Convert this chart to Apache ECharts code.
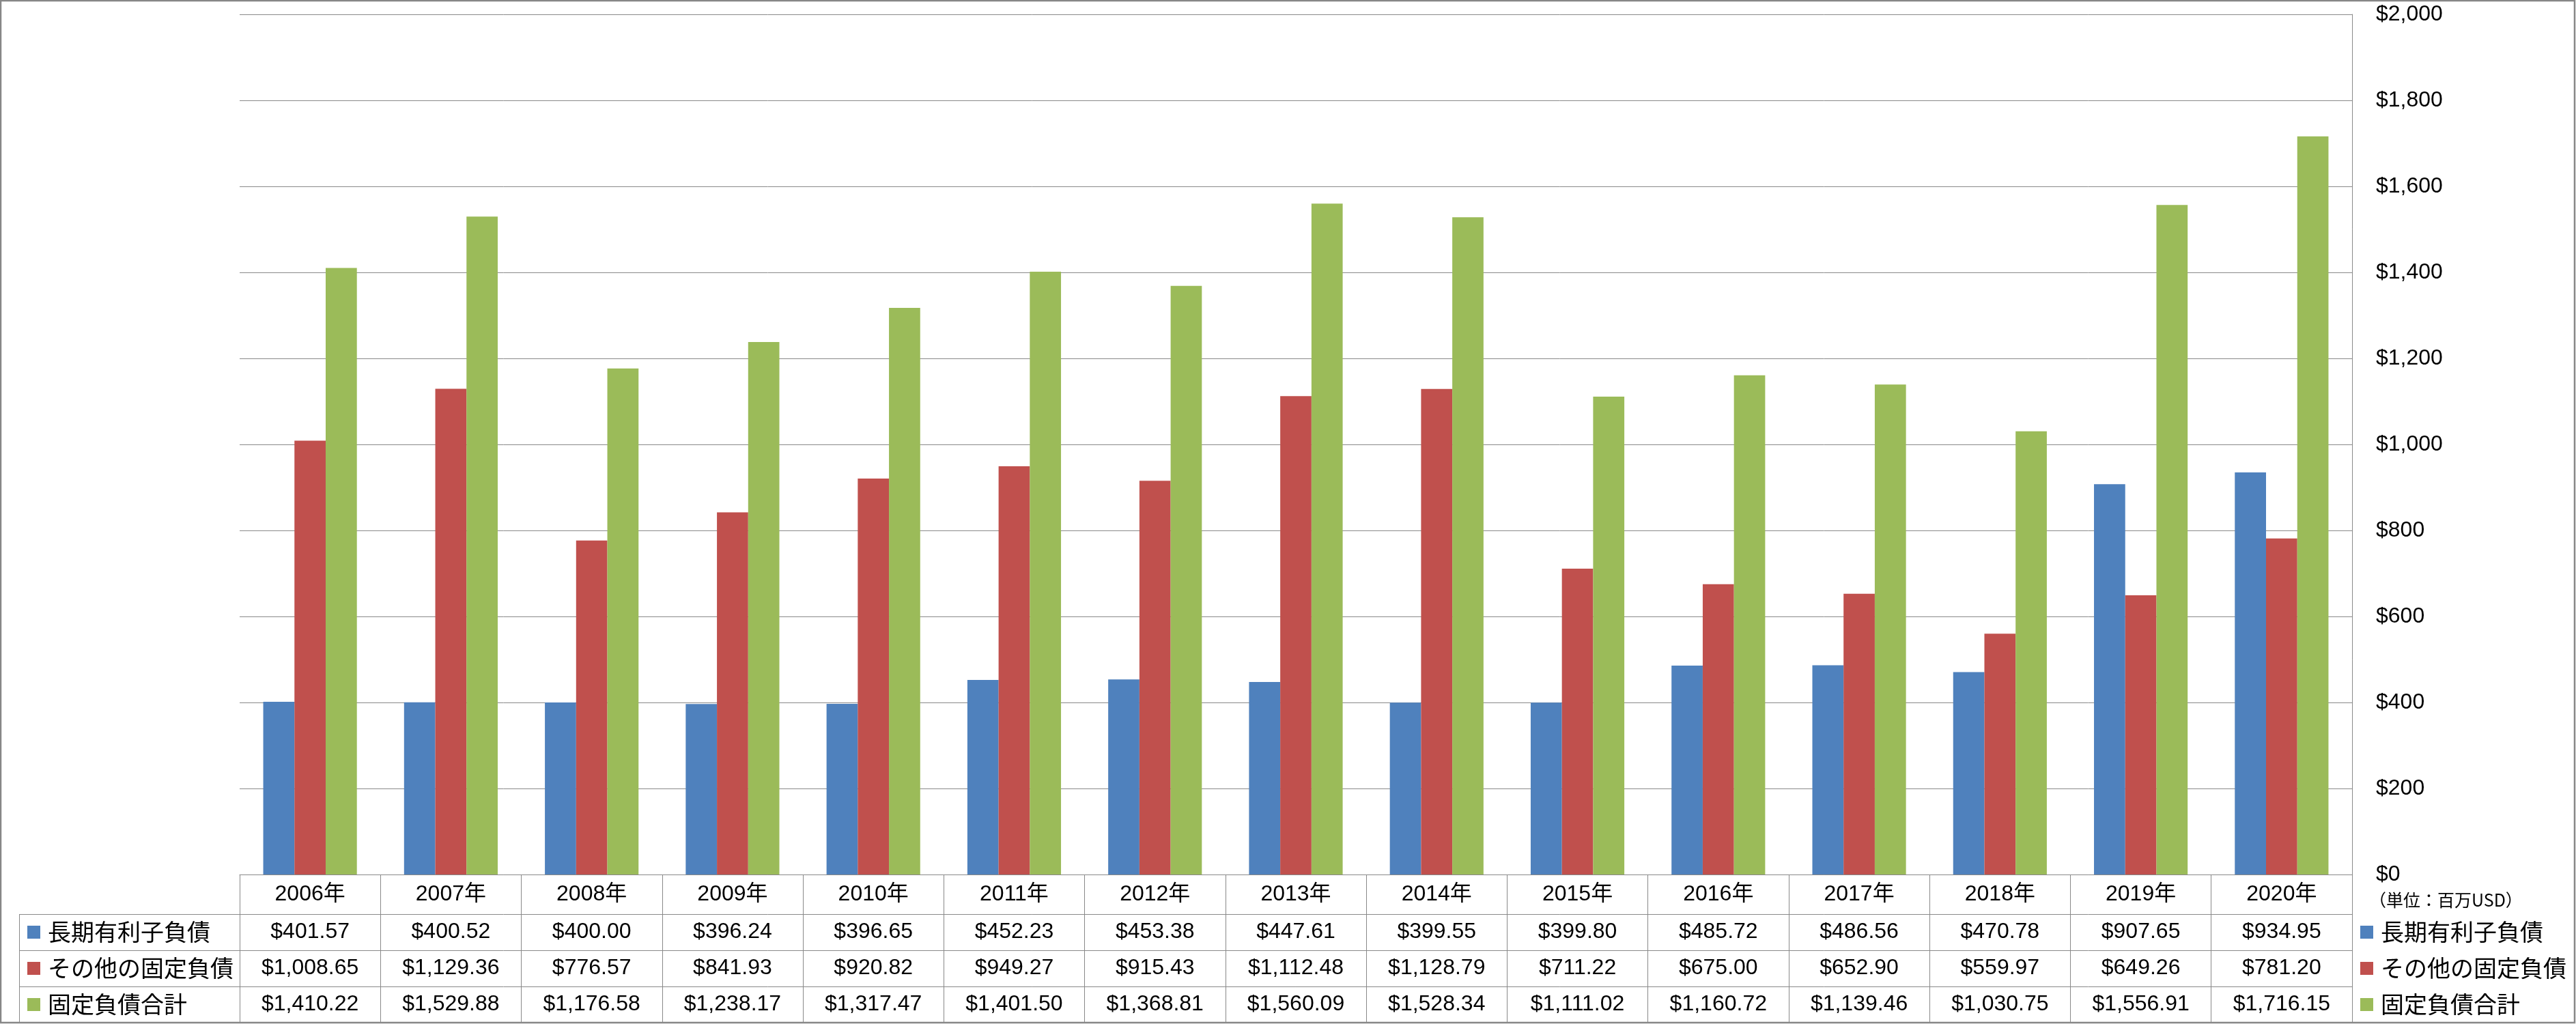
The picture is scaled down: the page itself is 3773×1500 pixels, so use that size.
<!DOCTYPE html>
<html>
<head>
<meta charset="utf-8">
<script src="https://cdn.jsdelivr.net/npm/echarts@6/dist/echarts.min.js"></script>
<style>
html,body{margin:0;padding:0;background:#fff;}
#c{width:3773px;height:1500px;}
</style>
</head>
<body>
<div id="c"></div>
<script>
// ---- data ----
const years = ['2006年','2007年','2008年','2009年','2010年','2011年','2012年','2013年','2014年','2015年','2016年','2017年','2018年','2019年','2020年'];
const seriesNames = ['長期有利子負債','その他の固定負債','固定負債合計'];
const longTermDebt = [401.57, 400.52, 400.00, 396.24, 396.65, 452.23, 453.38, 447.61, 399.55, 399.80, 485.72, 486.56, 470.78, 907.65, 934.95];
const otherFixed = [1008.65, 1129.36, 776.57, 841.93, 920.82, 949.27, 915.43, 1112.48, 1128.79, 711.22, 675.00, 652.90, 559.97, 649.26, 781.20];
const totalFixed = [1410.22, 1529.88, 1176.58, 1238.17, 1317.47, 1401.50, 1368.81, 1560.09, 1528.34, 1111.02, 1160.72, 1139.46, 1030.75, 1556.91, 1716.15];
const yMin = 0, yMax = 2000, yStep = 200;
const unitLabel = '（単位：百万USD）';

// ---- styles ----
const colors = ['#4F81BD','#C0504D','#9BBB59'];
const numFont = "'Liberation Sans', 'Noto Sans CJK JP', sans-serif";
const jpFont = "'Noto Sans CJK JP', sans-serif";
const lineCol = '#898989';

const fmtMoney = v => '$' + v.toLocaleString('en-US', {minimumFractionDigits: 2, maximumFractionDigits: 2});
const fmtAxis = v => '$' + Number(v).toLocaleString('en-US');

const gridTop = 21, gridLeft = 351, gridRight = 328, gridBottom = 219; // plot bottom at y=1281
const headerH = 58, rowH = 53;

const rows = [longTermDebt, otherFixed, totalFixed];

const xAxes = [{
  type: 'category', data: years, position: 'bottom', gridIndex: 0,
  boundaryGap: true,
  axisLine: {show: true, lineStyle: {color: lineCol, width: 1}},
  axisTick: {show: true, interval: 0, inside: false, length: headerH + rowH * 3, lineStyle: {color: lineCol, width: 1}},
  axisLabel: {interval: 0, margin: headerH / 2, verticalAlign: 'middle', fontSize: 32, fontFamily: numFont, color: '#000'},
  splitLine: {show: false}
}];
rows.forEach((arr, i) => {
  xAxes.push({
    type: 'category', data: years, position: 'bottom', gridIndex: 0,
    offset: headerH + rowH * i,
    axisLine: {show: true, lineStyle: {color: lineCol, width: 1}},
    axisTick: {show: false},
    axisLabel: {interval: 0, margin: rowH / 2, verticalAlign: 'middle', fontSize: 32, fontFamily: numFont, color: '#000',
      formatter: (val, idx) => fmtMoney(arr[idx])},
    splitLine: {show: false}
  });
});

const legendCommon = {
  orient: 'vertical', icon: 'rect', itemWidth: 19, itemHeight: 19, itemGap: 19,
  padding: 0, selectedMode: false, data: seriesNames,
  textStyle: {fontSize: 34, fontFamily: jpFont, color: '#000', lineHeight: 34, padding: [0, 0, 0, 6]}
};

const tableTop = 1281 + headerH;
const tableBottom = tableTop + rowH * 3;
const graphic = [
  {type: 'rect', shape: {x: 1, y: 1, width: 3770, height: 1497}, style: {fill: 'none', stroke: '#878787', lineWidth: 2.5}, z: 100},
  {type: 'line', shape: {x1: 28.5, y1: tableTop, x2: 28.5, y2: tableBottom}, style: {stroke: lineCol, lineWidth: 1}},
  {type: 'text', left: 3470, top: 1306, style: {text: unitLabel, fontSize: 25, fontFamily: jpFont, fill: '#000'}}
];
for (let i = 0; i < 3; i++) {
  const y = tableTop + rowH * i + 0.5;
  graphic.push({type: 'line', shape: {x1: 28, y1: y, x2: gridLeft, y2: y}, style: {stroke: lineCol, lineWidth: 1}});
}

const option = {
  backgroundColor: '#fff',
  animation: false,
  color: colors,
  grid: {left: gridLeft, right: gridRight, top: gridTop, bottom: gridBottom, containLabel: false},
  legend: [
    Object.assign({left: 40, top: tableTop + (rowH - 34) / 2}, legendCommon),
    Object.assign({left: 3457, top: tableTop + (rowH - 34) / 2}, legendCommon)
  ],
  xAxis: xAxes,
  yAxis: {
    type: 'value', position: 'right', min: yMin, max: yMax, interval: yStep,
    axisLine: {show: true, lineStyle: {color: lineCol, width: 1}},
    axisTick: {show: false},
    axisLabel: {margin: 35, fontSize: 32, fontFamily: numFont, color: '#000', formatter: fmtAxis},
    splitLine: {show: true, lineStyle: {color: lineCol, width: 1}}
  },
  series: [
    {name: seriesNames[0], type: 'bar', data: longTermDebt, barGap: '0%', barCategoryGap: '33.5%'},
    {name: seriesNames[1], type: 'bar', data: otherFixed, barGap: '0%', barCategoryGap: '33.5%'},
    {name: seriesNames[2], type: 'bar', data: totalFixed, barGap: '0%', barCategoryGap: '33.5%'}
  ],
  graphic: graphic
};

const chart = echarts.init(document.getElementById('c'), null, {renderer: 'canvas'});
chart.setOption(option);
</script>
</body>
</html>
